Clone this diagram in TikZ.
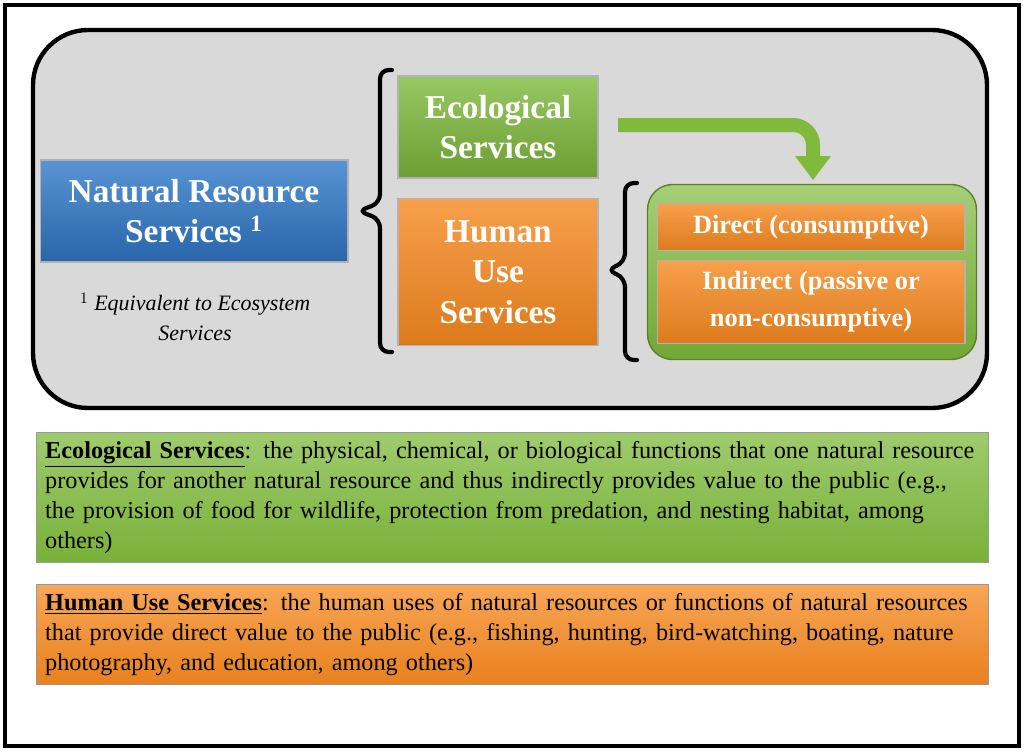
\documentclass[tikz,border=0pt]{standalone}
\usepackage{fontspec}
\setmainfont{Liberation Serif}
\usetikzlibrary{positioning,calc}
\definecolor{nrblue}{HTML}{2F78C8}
\definecolor{nrgreen}{HTML}{7FBA3C}
\definecolor{nrorange}{HTML}{F5881F}
\definecolor{nrgray}{HTML}{D9D9D9}
\hyphenpenalty=10000
\tikzset{>=stealth}
\tikzset{
  svcbox/.style={draw=white!70!black,line width=0.6pt,align=center,text=white,
    font=\bfseries\fontsize{19}{23}\selectfont,inner sep=0pt},
  bluebox/.style={svcbox,top color=nrblue!80!white,bottom color=nrblue!85!black},
  greenbox/.style={svcbox,top color=nrgreen!80!white,bottom color=nrgreen!85!black},
  orangebox/.style={svcbox,top color=nrorange!80!white,bottom color=nrorange!90!black},
  notebox/.style={draw=white!60!black,line width=0.5pt,align=left,anchor=north west,
    font=\fontsize{13.8}{17}\selectfont,inner xsep=5pt,inner ysep=4pt,text width=18.7cm},
  bracket/.style={line width=2.4pt,line cap=round,rounded corners=5pt}
}
\begin{document}
\begin{tikzpicture}[x=0.02cm,y=-0.02cm]
  \useasboundingbox (0,0) rectangle (1024,751);
  % frames
  \draw[line width=2.5pt] (5,5) rectangle (1019,746);
  \draw[line width=2.5pt,fill=nrgray,rounded corners=1.1cm] (33,30) rectangle (987,408);

  % left side
  \node[bluebox,minimum width=6.16cm,minimum height=2.04cm] (nrs) at (194,211)
    {Natural Resource\\Services $^{\mathbf 1}$};
  \node[font=\itshape\fontsize{12.5}{17}\selectfont,align=center] (fn) at (195,317)
    {$^1$ Equivalent to Ecosystem\\Services};

  % middle boxes
  \node[greenbox,minimum width=4cm,minimum height=2.04cm] (eco) at (498,127)
    {Ecological\\Services};
  \node[orangebox,minimum width=4cm,minimum height=2.94cm] (hum) at (498,272)
    {Human\\Use\\Services};

  % right group
  \node[draw=nrgreen!70!black,line width=0.8pt,rounded corners=0.5cm,
    top color=nrgreen!70!white,bottom color=nrgreen!90!black,
    minimum width=6.58cm,minimum height=3.5cm] (grp) at (812,272) {};
  \node[orangebox,font=\bfseries\fontsize{15}{18}\selectfont,
    minimum width=6.16cm,minimum height=0.94cm] (dir) at (811,227)
    {Direct (consumptive)};
  \node[orangebox,font=\bfseries\fontsize{15}{21}\selectfont,
    minimum width=6.16cm,minimum height=1.66cm] (ind) at (811,302)
    {Indirect (passive or\\non-consumptive)};

  % brackets
  \coordinate (b1) at (358,211);
  \draw[bracket] (392,70) -- (380,70) -- (380,203) -- (b1) -- (380,219) -- (380,352) -- (392,352);
  \coordinate (b2) at (607,270);
  \draw[bracket] (637,183) -- (625,183) -- (625,262) -- (b2) -- (625,278) -- (625,360) -- (637,360);

  % bent arrow
  \coordinate (a0) at (618,125);
  \coordinate (a1) at (813,180);
  \draw[nrgreen,line width=0.28cm,rounded corners=0.4cm] (a0) -- (813,125) -- (813,160);
  \fill[nrgreen] (795,156) -- (831,156) -- (a1) -- cycle;

  % notes
  \node[notebox,top color=nrgreen!75!white,bottom color=nrgreen!95!black,
    minimum height=2.6cm] (ecnote) at (36,432)
    {\textbf{\underline{Ecological Services}}: the physical, chemical, or biological functions that one natural resource provides for another natural resource and thus indirectly provides value to the public (e.g., the provision of food for wildlife, protection from predation, and nesting habitat, among others)};
  \node[notebox,top color=nrorange!75!white,bottom color=nrorange!95!black,
    minimum height=2cm] (hunote) at (36,584)
    {\textbf{\underline{Human Use Services}}: the human uses of natural resources or functions of natural resources that provide direct value to the public (e.g., fishing, hunting, bird-watching, boating, nature photography, and education, among others)};
\end{tikzpicture}
\end{document}
